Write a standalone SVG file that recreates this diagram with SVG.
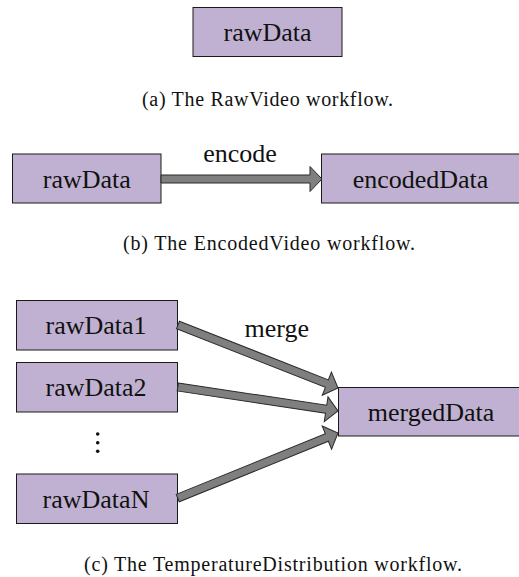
<svg xmlns="http://www.w3.org/2000/svg" width="519" height="577" viewBox="0 0 519 577">
  <style>
    .node rect { fill: #c0b1d2; stroke: #1a1a1a; stroke-width: 1; }
    .node text { font-family: "Liberation Serif", "Times New Roman", serif; font-size: 26px; fill: #111; text-anchor: middle; }
    .lbl { font-family: "Liberation Serif", "Times New Roman", serif; font-size: 26px; fill: #111; text-anchor: middle; }
    .cap { font-family: "Liberation Serif", "Times New Roman", serif; font-size: 20px; fill: #111; text-anchor: middle; }
    .arrow { fill: #7f7f7f; stroke: #2a2a2a; stroke-width: 1; stroke-linejoin: miter; }
  </style>

  <rect width="519" height="577" fill="#ffffff"/>

  <!-- (a) RawVideo -->
  <g id="a-rawData" class="node">
    <rect x="193" y="7.5" width="149" height="49"/>
    <text x="267.5" y="41">rawData</text>
  </g>
  <text class="cap" x="267.5" y="105.5" textLength="251" lengthAdjust="spacing">(a) The RawVideo workflow.</text>

  <!-- (b) EncodedVideo -->
  <g id="b-rawData" class="node">
    <rect x="12.5" y="154" width="148.5" height="49"/>
    <text x="86.8" y="187.5">rawData</text>
  </g>
  <g id="b-encodedData" class="node">
    <rect x="321.5" y="154" width="200" height="49"/>
    <text x="420.5" y="187.5">encodedData</text>
  </g>
  <g id="b-connectors">
    <polygon class="arrow" points="161,175 310,175 310,166.5 322,179 310,191.5 310,183 161,183"/>
    <text class="lbl" x="240" y="162">encode</text>
  </g>
  <text class="cap" x="269" y="250" textLength="292" lengthAdjust="spacing">(b) The EncodedVideo workflow.</text>

  <!-- (c) TemperatureDistribution -->
  <g id="c-rawData1" class="node">
    <rect x="16.5" y="300.5" width="161" height="49.5"/>
    <text x="96" y="334">rawData1</text>
  </g>
  <g id="c-rawData2" class="node">
    <rect x="16.5" y="362.5" width="161" height="49.5"/>
    <text x="96" y="396">rawData2</text>
  </g>
  <g id="c-rawDataN" class="node">
    <rect x="16.5" y="474" width="161" height="49.5"/>
    <text x="96" y="508">rawDataN</text>
  </g>
  <g id="c-ellipsis">
    <circle cx="97.7" cy="434" r="1.8" fill="#111"/>
    <circle cx="97.7" cy="442.7" r="1.8" fill="#111"/>
    <circle cx="97.7" cy="451.3" r="1.8" fill="#111"/>
  </g>
  <g id="c-mergedData" class="node">
    <rect x="338.5" y="387.5" width="190" height="48.5"/>
    <text x="431" y="421">mergedData</text>
  </g>
  <g id="c-connectors">
    <!-- each arrow drawn tip-at-origin along +x, then placed and rotated -->
    <polygon class="arrow" transform="translate(338,388) rotate(21.5)" points="-172,-4 -12,-4 -12,-12.5 0,0 -12,12.5 -12,4 -172,4"/>
    <polygon class="arrow" transform="translate(338,411) rotate(8.53)" points="-162,-4 -12,-4 -12,-12.5 0,0 -12,12.5 -12,4 -162,4"/>
    <polygon class="arrow" transform="translate(338,433) rotate(-22.1)" points="-173,-4 -12,-4 -12,-12.5 0,0 -12,12.5 -12,4 -173,4"/>
    <text class="lbl" x="276.7" y="337">merge</text>
  </g>
  <text class="cap" x="273" y="571" textLength="378" lengthAdjust="spacing">(c) The TemperatureDistribution workflow.</text>
</svg>
